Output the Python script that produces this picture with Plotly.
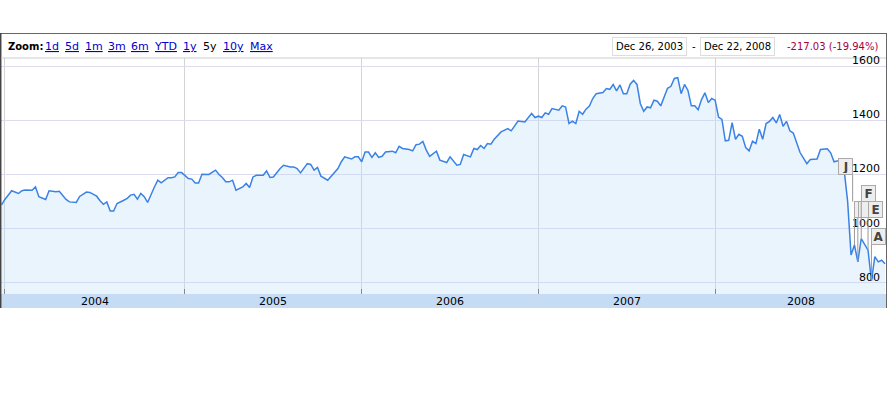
import numpy as np
import pandas as pd
import plotly.graph_objects as go

# weekly closes, week number counted from Fri Dec 26, 2003
weeks = [0, 1, 3, 5, 6, 7, 9, 10, 11, 13, 14, 16, 17, 19, 20, 22, 23, 25, 26, 28,
         29, 30, 31, 32, 33, 34, 36, 37, 38, 39, 40, 41, 42, 43, 45, 46, 47, 49, 50, 51,
         52, 53, 55, 56, 57, 58, 59, 60, 61, 63, 64, 65, 66, 67, 68, 69, 70, 71, 72, 73,
         74, 75, 77, 78, 79, 80, 82, 83, 85, 86, 87, 88, 90, 91, 92, 93, 94, 96, 99, 100,
         101, 103, 104, 105, 106, 107, 108, 109, 110, 111, 112, 113, 115, 116, 117, 118, 120, 121, 122, 123,
         124, 125, 126, 128, 129, 131, 132, 134, 135, 136, 138, 139, 140, 141, 142, 143, 144, 145, 147, 148,
         149, 150, 152, 154, 156, 157, 158, 159, 160, 161, 162, 164, 165, 166, 167, 168, 169, 170, 171, 172,
         173, 174, 175, 177, 178, 179, 180, 181, 182, 183, 184, 185, 186, 187, 188, 189, 190, 191, 192, 193,
         194, 196, 197, 198, 199, 200, 201, 202, 203, 204, 205, 206, 207, 208, 209, 210, 211, 212, 213, 214,
         215, 216, 217, 218, 219, 220, 221, 222, 223, 224, 225, 226, 227, 228, 229, 230, 231, 232, 233, 235,
         237, 238, 240, 241, 243, 244, 245, 247, 248, 249, 250, 251, 252, 253, 255, 256, 257, 258, 259, 260]
closes = [1088, 1108, 1140, 1130, 1140, 1143, 1142, 1154, 1118, 1108, 1140, 1136, 1138, 1108, 1099, 1097, 1119, 1135, 1134, 1120,
          1103, 1090, 1099, 1065, 1065, 1093, 1105, 1112, 1124, 1127, 1109, 1130, 1118, 1097, 1154, 1179, 1169, 1188, 1188, 1191,
          1207, 1207, 1185, 1183, 1169, 1169, 1201, 1201, 1200, 1216, 1200, 1189, 1173, 1173, 1179, 1142, 1148, 1154, 1167, 1152,
          1191, 1197, 1197, 1213, 1189, 1191, 1222, 1234, 1228, 1228, 1222, 1206, 1240, 1237, 1216, 1226, 1194, 1179, 1222, 1247,
          1265, 1257, 1265, 1265, 1247, 1283, 1283, 1263, 1280, 1263, 1267, 1283, 1286, 1280, 1304, 1296, 1292, 1287, 1310, 1312,
          1322, 1290, 1267, 1286, 1253, 1244, 1265, 1234, 1237, 1274, 1265, 1296, 1292, 1307, 1296, 1314, 1312, 1330, 1357, 1363,
          1369, 1361, 1397, 1394, 1425, 1410, 1415, 1410, 1427, 1422, 1443, 1437, 1453, 1449, 1388, 1397, 1388, 1433, 1422, 1441,
          1452, 1480, 1498, 1502, 1517, 1514, 1532, 1508, 1530, 1498, 1498, 1533, 1547, 1532, 1461, 1433, 1449, 1446, 1474, 1470,
          1453, 1518, 1525, 1554, 1557, 1498, 1532, 1510, 1453, 1453, 1439, 1476, 1501, 1465, 1480, 1474, 1412, 1403, 1324, 1326,
          1391, 1330, 1348, 1341, 1299, 1287, 1323, 1314, 1367, 1330, 1388, 1396, 1410, 1390, 1421, 1378, 1396, 1361, 1353, 1281,
          1240, 1255, 1257, 1292, 1295, 1280, 1247, 1253, 1213, 1100, 903, 940, 878, 964, 921, 808, 897, 878, 884, 871]

year_ticks = ["2004-01-02", "2005-01-07", "2006-01-06", "2007-01-05", "2008-01-04"]
year_labels = ["2004", "2005", "2006", "2007", "2008"]
price_ticks = [800, 1000, 1200, 1400, 1600]
zoom_links = ["1d", "5d", "1m", "3m", "6m", "YTD", "1y", "5y", "10y", "Max"]
# news flags; the two blank ones are mostly hidden behind "E"
flag_letters = ["J", "", "", "F", "E", "A"]
flag_weeks = [249, 251, 252, 253, 255, 256]

start = pd.Timestamp("2003-12-26")
dates = start + pd.to_timedelta(np.array(weeks) * 7, unit="D")
x_end = pd.Timestamp("2008-12-21")

# plot area in page pixels
L, R, T, B = 1, 886, 58, 294
W, H = R - L, B - T
Y0, Y1 = 759.4, 1629.5

def px2x(px):
    return (px - L) / W

def px2y(py):
    return (B - py) / H

def ypix(v):
    return B - (v - Y0) / (Y1 - Y0) * H

FONT = "DejaVu Sans"

fig = go.Figure()
fig.add_trace(go.Scatter(x=dates, y=closes, mode="lines",
                         line=dict(color="#3a82e4", width=1.5),
                         fill="tozeroy", fillcolor="rgba(185,218,248,0.3)",
                         hoverinfo="skip"))

shapes = [
    dict(type="rect", xref="paper", yref="paper", x0=px2x(1), x1=px2x(886),
         y0=px2y(308), y1=px2y(294), fillcolor="#c6dbf4", line=dict(width=0)),
    dict(type="line", xref="paper", yref="paper", x0=px2x(0), x1=px2x(887),
         y0=px2y(33.5), y1=px2y(33.5), line=dict(color="#666", width=1)),
    dict(type="line", xref="paper", yref="paper", x0=px2x(0.7), x1=px2x(0.7),
         y0=px2y(33), y1=px2y(308), line=dict(color="#444", width=1.5)),
    dict(type="line", xref="paper", yref="paper", x0=px2x(886.5), x1=px2x(886.5),
         y0=px2y(33), y1=px2y(308), line=dict(color="#666", width=1)),
    dict(type="line", xref="paper", yref="paper", x0=px2x(1), x1=px2x(886),
         y0=px2y(58), y1=px2y(58), line=dict(color="#cccccc", width=1)),
]

ann = []
# header: zoom links
link_x = [44, 64, 84, 107, 130, 153, 182, 202, 222, 249]
hy = px2y(46.5)
ann.append(dict(text="<b>Zoom:</b>", x=px2x(7), y=hy, xref="paper", yref="paper",
                xanchor="left", yanchor="middle", showarrow=False, borderpad=0,
                font=dict(family=FONT, size=10, color="#000")))
for lab, lx in zip(zoom_links, link_x):
    if lab == "5y":
        txt, col = lab, "#000"
    else:
        txt, col = "<u>" + lab + "</u>", "#0000cc"
    ann.append(dict(text=txt, x=px2x(lx), y=hy, xref="paper", yref="paper",
                    xanchor="left", yanchor="middle", showarrow=False, borderpad=0,
                    font=dict(family=FONT, size=11, color=col)))

# header: date range and change
for txt, cx in [("Dec 26, 2003", 649.5), ("Dec 22, 2008", 737.5)]:
    ann.append(dict(text=txt, x=px2x(cx), y=hy, xref="paper", yref="paper",
                    xanchor="center", yanchor="middle", showarrow=False,
                    bgcolor="#fff", bordercolor="#dddddd", borderwidth=1, borderpad=3,
                    font=dict(family=FONT, size=10, color="#000")))
ann.append(dict(text="-", x=px2x(694), y=hy, xref="paper", yref="paper",
                xanchor="center", yanchor="middle", showarrow=False,
                font=dict(family=FONT, size=10, color="#000")))
ann.append(dict(text="-217.03 (-19.94%)", x=px2x(880), y=hy, xref="paper", yref="paper",
                xanchor="right", yanchor="middle", showarrow=False,
                font=dict(family=FONT, size=10, color="#a8003c")))

# price labels on right edge, sitting on the gridlines
for v in price_ticks:
    ann.append(dict(text=str(v), x=px2x(882), y=v, xref="paper", yref="y",
                    xanchor="right", yanchor="bottom", yshift=-3, showarrow=False,
                    font=dict(family=FONT, size=11, color="#000")))

# year labels in the bottom band
tick_ts = [pd.Timestamp(t) for t in year_ticks] + [x_end]
for i, lab in enumerate(year_labels):
    mid = tick_ts[i] + (tick_ts[i + 1] - tick_ts[i]) / 2
    ann.append(dict(text=lab, x=mid, y=px2y(301.5), xref="x", yref="paper",
                    xanchor="center", yanchor="middle", showarrow=False,
                    font=dict(family=FONT, size=11, color="#000")))

# news flags (J hangs left of its pole so the 1200 label stays readable)
flag_tops = [175, 218, 218, 202, 218, 245]
for letter, w, top in zip(flag_letters, flag_weeks, flag_tops):
    v = closes[weeks.index(w)]
    ann.append(dict(text="<b>" + letter + "</b>" if letter else " ",
                    x=start + pd.Timedelta(days=7 * w), y=v,
                    xref="x", yref="y",
                    xanchor="right" if letter == "J" else "left", yanchor="bottom",
                    xshift=5 if letter == "J" else 0,
                    showarrow=True, arrowhead=0, arrowwidth=1, arrowcolor="#999",
                    ax=0, ay=top - ypix(v),
                    width=11, height=13, bgcolor="#eeeeee", bordercolor="#aaaaaa",
                    borderwidth=1, borderpad=1,
                    font=dict(family=FONT, size=12, color="#444")))

fig.update_layout(
    width=893, height=400,
    margin=dict(l=L, r=893 - R, t=T, b=400 - B),
    paper_bgcolor="#ffffff", plot_bgcolor="#ffffff",
    showlegend=False, hovermode=False,
    shapes=shapes, annotations=ann,
    xaxis=dict(range=[pd.Timestamp("2003-12-25"), x_end], tickvals=year_ticks,
               showticklabels=False, showgrid=True, gridcolor="#d4d4d4", gridwidth=1,
               ticks="inside", ticklen=5, tickcolor="#888", zeroline=False,
               showline=False, fixedrange=True),
    yaxis=dict(range=[Y0, Y1], tickvals=price_ticks, showticklabels=False,
               showgrid=True, gridcolor="#dcdcef", gridwidth=1, zeroline=False,
               showline=False, fixedrange=True),
)

fig.write_html("out.html", config={"displayModeBar": False},
               post_script="document.body.style.margin='0';")
